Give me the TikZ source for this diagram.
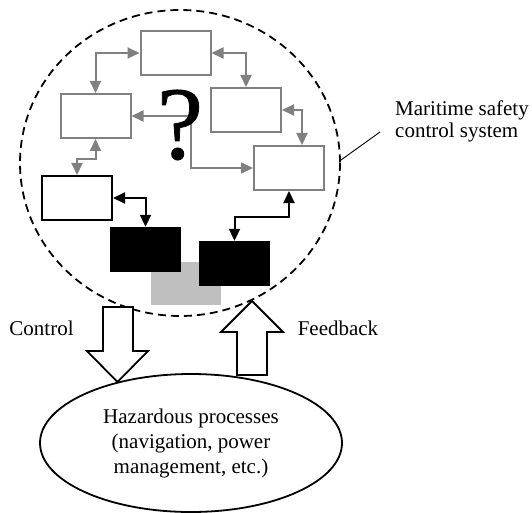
\documentclass[tikz,border=0pt]{standalone}
\usepackage{fontspec}
\setmainfont{Liberation Serif}
\newfontfamily\qfont[FakeBold=0.7]{Liberation Serif}
\usetikzlibrary{arrows.meta,shapes.geometric}
\begin{document}
\begin{tikzpicture}[x=1pt,y=-1pt,
  gbox/.style={draw=black!50,line width=2pt,fill=white,inner sep=0,minimum width=70pt,minimum height=44pt},
  kbox/.style={draw=black,line width=2pt,fill=white,inner sep=0,minimum width=70pt,minimum height=44pt},
  fbox/.style={draw=none,fill=black,inner sep=0,minimum width=71pt,minimum height=45pt},
  lbox/.style={draw=none,fill=black!25,inner sep=0,minimum width=70pt,minimum height=43pt},
  gcon/.style={draw=black!50,line width=2pt,{Triangle[length=12pt,width=11pt]}-{Triangle[length=12pt,width=11pt]}},
  kcon/.style={draw=black,line width=2pt,{Triangle[length=12pt,width=11pt]}-{Triangle[length=12pt,width=11pt]}},
  gtip/.style={draw=black!50,line width=2pt,-{Triangle[length=12pt,width=11pt]}},
  blockarrow/.style={draw=black,line width=1.8pt,fill=white,line join=miter},
  lbl/.style={font=\fontsize{21}{22}\selectfont,inner sep=0}
]
\path[use as bounding box] (0,0) rectangle (532,513);
\fill[white] (0,0) rectangle (532,513);

% dashed system boundary
\draw[line width=1.8pt,dash pattern=on 8pt off 5pt] (180,163) ellipse [x radius=160, y radius=153];

% boxes
\node[lbox] (gry) at (186,283.5) {};
\node[fbox] (b1) at (145.5,249.5) {};
\node[fbox] (b2) at (234.5,263.5) {};
\node[gbox] (top) at (175.5,53) {};
\node[gbox] (lft) at (95.5,116) {};
\node[gbox] (rtop) at (246,110) {};
\node[gbox] (rlow) at (289,168) {};
\node[kbox] (obox) at (77,198) {};

\coordinate (qj) at (191,116);

% gray connectors
\draw[gcon] (top.west) -| (lft.north);
\draw[gcon] (top.east) -| (rtop.north);
\draw[gcon] (rtop.east) -| ([xshift=13pt]rlow.north);
\draw[gtip] (qj) -- (lft.east);
\draw[gtip] (qj) |- (rlow.west);
\draw[gcon] (lft.south) -- ++(0,20) -| (obox.north);

% question mark
\node[inner sep=0,font=\qfont\fontsize{104}{104}\selectfont] (q) at (180,125) {?};

% black connectors
\draw[kcon] (obox.east) -| (b1.north);
\draw[kcon] (rlow.south) -- ++(0,26) -| (b2.north);

% block arrows
\draw[blockarrow] (103,307) -- (133,307) -- (133,351) -- (148,351) -- (117.5,382) -- (87,351) -- (103,351) -- cycle;
\draw[blockarrow] (237,375) -- (267,375) -- (267,332) -- (283,332) -- (252,301) -- (221,332) -- (237,332) -- cycle;

% labels
\node[lbl] (ctl) at (41.5,328) {Control};
\node[lbl] (fbk) at (338,328) {Feedback};
\node[lbl,anchor=west,align=left] (mss) at (395,121) {Maritime safety\\control system};
\coordinate (lead) at (341,160);
\coordinate (leadend) at (380,132);
\draw[line width=0.9pt] (lead) -- (leadend);

% process ellipse
\node[ellipse,draw,line width=1.8pt,minimum width=302pt,minimum height=138pt,inner sep=0,
  align=center,font=\fontsize{21}{25}\selectfont] (proc) at (191,443)
  {Hazardous processes\\(navigation, power\\management, etc.)};
\end{tikzpicture}
\end{document}
